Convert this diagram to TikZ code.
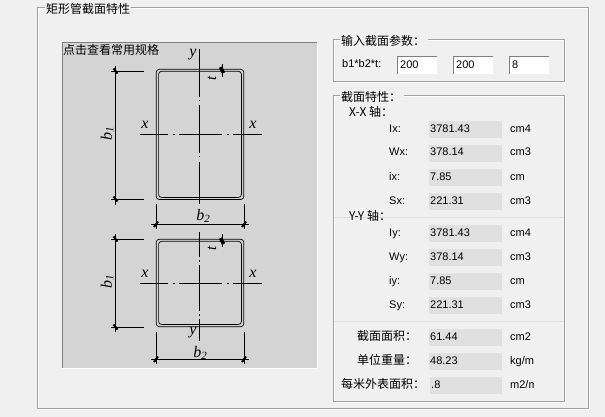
\documentclass[tikz,border=0pt]{standalone}
\usepackage{fontspec}
\setmainfont{Liberation Sans}
\newfontfamily\cjk{Noto Sans CJK SC}
\newfontfamily\dimfont{Liberation Serif}
\definecolor{winbg}{HTML}{F0F0F0}
\definecolor{panel}{HTML}{D4D4D4}
\definecolor{valbg}{HTML}{E0E0E0}
\definecolor{frame}{HTML}{A0A0A0}
\definecolor{sunk}{HTML}{808080}
\newcommand{\subnum}[1]{\raisebox{-1.5pt}{\fontsize{11}{11}\selectfont #1}}

\tikzstyle{txt}=[inner sep=0pt, anchor=west, font=\fontsize{11}{11}\selectfont, text height=8pt, text depth=0pt]
\tikzstyle{zh}=[txt, font=\fontsize{12}{12}\selectfont\cjk, text height=9pt]
\tikzstyle{title}=[zh, fill=winbg, inner xsep=1pt]
\tikzstyle{val}=[fill=valbg, minimum width=73pt, minimum height=17pt, inner sep=0pt, anchor=west, font=\fontsize{11}{11}\selectfont, text width=71pt, align=left, text height=8pt, text depth=3pt]
\tikzstyle{inbox}=[fill=white, minimum width=40pt, minimum height=17pt, inner sep=0pt, anchor=west, font=\fontsize{11}{11}\selectfont, text width=34pt, align=left, text height=8pt, text depth=1pt]
\tikzstyle{dim}=[font=\fontsize{16}{16}\selectfont\dimfont\itshape, inner sep=0pt]
\tikzstyle{thick mark}=[font=\fontsize{15}{15}\selectfont\dimfont\itshape, inner sep=0pt, rotate=90]
\tikzstyle{dimline}=[line width=0.9pt]
\tikzstyle{tube}=[line width=0.7pt, rounded corners=3pt]
\tikzstyle{axis}=[line width=0.9pt]
\tikzstyle{tick}=[line width=2pt]
\tikzstyle{frameline}=[draw=frame, line width=0.9pt]
\tikzstyle{etchline}=[draw=white, line width=0.7pt]

\begin{document}
\begin{tikzpicture}[x=1pt, y=-1pt]
    \useasboundingbox (0, 0) rectangle (605, 417);
    \fill[winbg] (0, 0) rectangle (605, 417);

    % outer group
    \draw[etchline] (38.5, 8) rectangle (589, 409);
    \draw[frameline] (37.5, 7) rectangle (588, 408);
    \node[title] (maintitle) at (45, 9) {矩形管截面特性};

    % picture panel
    \fill[panel] (62, 42) rectangle (317, 368);
    \draw[sunk, line width=1.2pt] (62.5, 368) -- (62.5, 42.5) -- (317, 42.5);
    \draw[white, line width=1pt] (62, 368.5) -- (317.5, 368.5) -- (317.5, 42);
    \node[zh] (hint) at (63, 50) {点击查看常用规格};

    % upper tube
    \draw[tube] (156.2, 69.3) rectangle (243.8, 199.5);
    \draw[tube] (158.6, 71.3) rectangle (241.4, 197.5);
    \coordinate (ya1) at (199, 49);
    \coordinate (ya2) at (199, 204);
    \coordinate (xa1) at (140, 134);
    \coordinate (xa2) at (262, 134);
    \draw[axis, dash pattern=on 48pt off 3pt on 1.5pt off 3.5pt on 48pt off 3pt on 1.5pt off 4.5pt on 48pt] (ya1) -- (ya2);
    \draw[axis, dash pattern=on 28pt off 5pt on 1.5pt off 4.5pt on 43pt off 5pt on 1.5pt off 4.5pt on 29pt] (xa1) -- (xa2);
    \node[dim] (xl1) at (145, 125) {x};
    \node[dim] (xr1) at (253, 125) {x};
    \node[dim] (yt1) at (193, 55) {y};

    % upper b1
    \coordinate (bt1) at (115, 66);
    \coordinate (bb1) at (115, 205);
    \coordinate (et1a) at (111, 71);
    \coordinate (et1b) at (144, 71);
    \coordinate (eb1a) at (111, 199);
    \coordinate (eb1b) at (144, 199);
    \draw[dimline] (bt1) -- (bb1);
    \draw[dimline] (et1a) -- (et1b);
    \draw[dimline] (eb1a) -- (eb1b);
    \draw[tick] (113.5, 68.5) -- (117.5, 73.5);
    \draw[tick] (113.5, 196.5) -- (117.5, 201.5);
    \node[dim, rotate=90] (b1up) at (107, 134) {b\subnum{1}};

    % upper b2
    \coordinate (el2a) at (156, 204);
    \coordinate (el2b) at (156, 229);
    \coordinate (er2a) at (244, 204);
    \coordinate (er2b) at (244, 229);
    \coordinate (dl2) at (151, 224);
    \coordinate (dr2) at (249, 224);
    \draw[dimline] (el2a) -- (el2b);
    \draw[dimline] (er2a) -- (er2b);
    \draw[dimline] (dl2) -- (dr2);
    \draw[tick] (154, 227) -- (158, 221.5);
    \draw[tick] (242, 227) -- (246, 221.5);
    \node[dim] (b2up) at (203, 216) {b\subnum{2}};

    % upper t
    \coordinate (tt1) at (222, 64);
    \coordinate (tb1) at (222, 77);
    \draw[dimline] (tt1) -- (tb1);
    \draw[line width=3.4pt] (220.5, 67) -- (223.5, 73);
    \node[thick mark] (t1) at (212, 78) {t};

    % lower tube
    \draw[tube] (156.2, 239.3) rectangle (243.8, 326.7);
    \draw[tube] (158.6, 241.3) rectangle (241.4, 324.5);
    \coordinate (ya3) at (199, 232);
    \coordinate (ya4) at (199, 341);
    \coordinate (xa3) at (140, 283);
    \coordinate (xa4) at (262, 283);
    \draw[axis, dash pattern=on 25pt off 3pt on 1.5pt off 3.5pt on 46pt off 3pt on 1.5pt off 3.5pt on 24pt] (ya3) -- (ya4);
    \draw[axis, dash pattern=on 28pt off 5pt on 1.5pt off 4.5pt on 43pt off 5pt on 1.5pt off 4.5pt on 29pt] (xa3) -- (xa4);
    \node[dim] (xl2) at (145, 274) {x};
    \node[dim] (xr2) at (253, 274) {x};
    \node[dim] (yb2) at (193, 333) {y};

    % lower b1
    \coordinate (bt2) at (115, 234);
    \coordinate (bb2) at (115, 332);
    \coordinate (et2a) at (111, 239);
    \coordinate (et2b) at (144, 239);
    \coordinate (eb2a) at (111, 327);
    \coordinate (eb2b) at (144, 327);
    \draw[dimline] (bt2) -- (bb2);
    \draw[dimline] (et2a) -- (et2b);
    \draw[dimline] (eb2a) -- (eb2b);
    \draw[tick] (113.5, 236.5) -- (117.5, 241.5);
    \draw[tick] (113.5, 324.5) -- (117.5, 329.5);
    \node[dim, rotate=90] (b1lo) at (107, 282) {b\subnum{1}};

    % lower b2
    \coordinate (el3a) at (156, 332);
    \coordinate (el3b) at (156, 364);
    \coordinate (er3a) at (244, 332);
    \coordinate (er3b) at (244, 364);
    \coordinate (dl3) at (151, 359);
    \coordinate (dr3) at (249, 359);
    \draw[dimline] (el3a) -- (el3b);
    \draw[dimline] (er3a) -- (er3b);
    \draw[dimline] (dl3) -- (dr3);
    \draw[tick] (154, 362) -- (158, 356.5);
    \draw[tick] (242, 362) -- (246, 356.5);
    \node[dim] (b2lo) at (200, 353) {b\subnum{2}};

    % lower t
    \coordinate (tt2) at (222, 234);
    \coordinate (tb2) at (222, 247);
    \draw[dimline] (tt2) -- (tb2);
    \draw[line width=3.4pt] (220.5, 238) -- (223.5, 244);
    \node[thick mark] (t2) at (212, 248) {t};

    % input group
    \draw[etchline] (334.5, 40.5) rectangle (565.5, 82);
    \draw[frameline] (333.5, 39.5) rectangle (564.5, 81);
    \node[title] (intitle) at (340, 41) {输入截面参数：\kern2pt};
    \node[txt] (inlabel) at (342, 64) {b1*b2*t:};
    \node[inbox] (in1) at (397, 65.5) {200};
    \node[inbox] (in2) at (453, 65.5) {200};
    \node[inbox] (in3) at (509, 65.5) {8};
    \draw[sunk, line width=1pt] (in1.south west) -- (in1.north west) -- (in1.north east);
    \draw[sunk, line width=1pt] (in2.south west) -- (in2.north west) -- (in2.north east);
    \draw[sunk, line width=1pt] (in3.south west) -- (in3.north west) -- (in3.north east);

    % section group
    \draw[etchline] (334.5, 96.5) rectangle (565.5, 402);
    \draw[frameline] (333.5, 95.5) rectangle (564.5, 401);
    \draw[valbg, line width=0.9pt] (334, 217.5) -- (564, 217.5);
    \draw[valbg, line width=0.9pt] (334, 321.5) -- (564, 321.5);
    \node[title] (sectitle) at (340, 97) {截面特性：\kern2pt};
    \node[zh] (xxaxis) at (349, 112) {X-X 轴：};
    \node[zh] (yyaxis) at (349, 216) {Y-Y 轴：};

    \node[txt] (ixl) at (389, 128) {Ix:};
    \node[txt] (wxl) at (389, 152) {Wx:};
    \node[txt] (rxl) at (389, 176) {ix:};
    \node[txt] (sxl) at (389, 200) {Sx:};
    \node[val] (ix) at (429, 129.5) {3781.43};
    \node[val] (wx) at (429, 153.5) {378.14};
    \node[val] (rx) at (429, 177.5) {7.85};
    \node[val] (sx) at (429, 201.5) {221.31};
    \node[txt] (ixu) at (510, 128) {cm4};
    \node[txt] (wxu) at (510, 152) {cm3};
    \node[txt] (rxu) at (510, 176) {cm};
    \node[txt] (sxu) at (510, 200) {cm3};

    \node[txt] (iyl) at (389, 232) {Iy:};
    \node[txt] (wyl) at (389, 256) {Wy:};
    \node[txt] (ryl) at (389, 280) {iy:};
    \node[txt] (syl) at (389, 304) {Sy:};
    \node[val] (iy) at (429, 233.5) {3781.43};
    \node[val] (wy) at (429, 257.5) {378.14};
    \node[val] (ry) at (429, 281.5) {7.85};
    \node[val] (sy) at (429, 305.5) {221.31};
    \node[txt] (iyu) at (510, 232) {cm4};
    \node[txt] (wyu) at (510, 256) {cm3};
    \node[txt] (ryu) at (510, 280) {cm};
    \node[txt] (syu) at (510, 304) {cm3};

    \node[zh] (areal) at (357, 336) {截面面积：};
    \node[zh] (weightl) at (357, 360) {单位重量：};
    \node[zh] (surfl) at (341, 384) {每米外表面积：};
    \node[val] (area) at (429, 337.5) {61.44};
    \node[val] (weight) at (429, 361.5) {48.23};
    \node[val, minimum width=72pt, text width=70pt] (surf) at (430, 385.5) {.8};
    \node[txt] (areau) at (510, 336) {cm2};
    \node[txt] (weightu) at (510, 360) {kg/m};
    \begin{scope}
      \clip (505, 375) rectangle (533, 393);
      \node[txt] (surfu) at (510, 384) {m2/m};
    \end{scope}
  \end{tikzpicture}
\end{document}
